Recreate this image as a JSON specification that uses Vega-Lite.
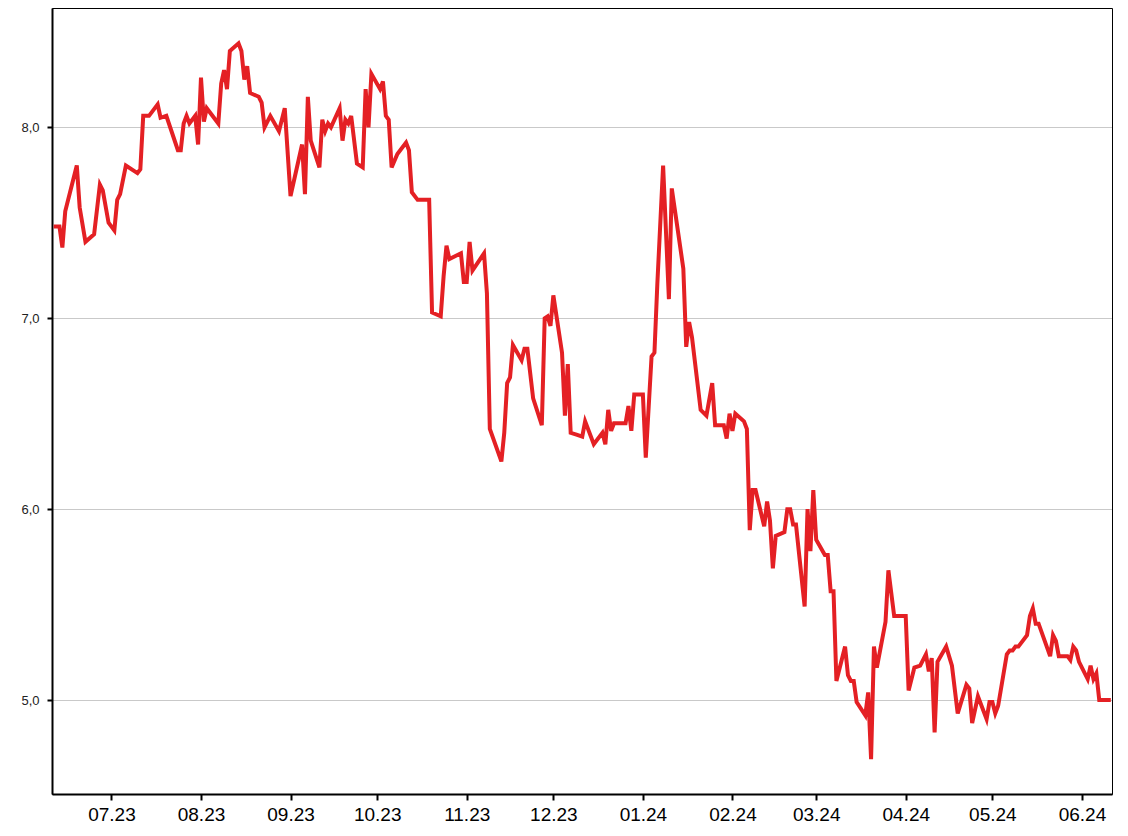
{
  "$schema": "https://vega.github.io/schema/vega-lite/v6.json",
  "width": 1060,
  "height": 786,
  "autosize": {"type": "none"},
  "padding": {"left": 52, "top": 8, "right": 16, "bottom": 42},
  "background": "white",
  "config": {
    "view": {"stroke": "black", "strokeWidth": 1},
    "font": "Liberation Sans"
  },
  "data": {
    "values": [
      {"date": "2023-06-11", "value": 7.48},
      {"date": "2023-06-13", "value": 7.48},
      {"date": "2023-06-14", "value": 7.37},
      {"date": "2023-06-15", "value": 7.56},
      {"date": "2023-06-19", "value": 7.80},
      {"date": "2023-06-20", "value": 7.58},
      {"date": "2023-06-22", "value": 7.40},
      {"date": "2023-06-25", "value": 7.44},
      {"date": "2023-06-27", "value": 7.70},
      {"date": "2023-06-28", "value": 7.67},
      {"date": "2023-06-30", "value": 7.50},
      {"date": "2023-07-02", "value": 7.46},
      {"date": "2023-07-03", "value": 7.62},
      {"date": "2023-07-04", "value": 7.65},
      {"date": "2023-07-06", "value": 7.80},
      {"date": "2023-07-10", "value": 7.76},
      {"date": "2023-07-11", "value": 7.78},
      {"date": "2023-07-12", "value": 8.06},
      {"date": "2023-07-14", "value": 8.06},
      {"date": "2023-07-17", "value": 8.12},
      {"date": "2023-07-18", "value": 8.05},
      {"date": "2023-07-20", "value": 8.06},
      {"date": "2023-07-24", "value": 7.88},
      {"date": "2023-07-25", "value": 7.88},
      {"date": "2023-07-26", "value": 8.02},
      {"date": "2023-07-27", "value": 8.06},
      {"date": "2023-07-28", "value": 8.02},
      {"date": "2023-07-30", "value": 8.06},
      {"date": "2023-07-31", "value": 7.91},
      {"date": "2023-08-01", "value": 8.26},
      {"date": "2023-08-02", "value": 8.03},
      {"date": "2023-08-03", "value": 8.10},
      {"date": "2023-08-07", "value": 8.02},
      {"date": "2023-08-08", "value": 8.23},
      {"date": "2023-08-09", "value": 8.30},
      {"date": "2023-08-10", "value": 8.20},
      {"date": "2023-08-11", "value": 8.40},
      {"date": "2023-08-14", "value": 8.44},
      {"date": "2023-08-15", "value": 8.40},
      {"date": "2023-08-16", "value": 8.25},
      {"date": "2023-08-17", "value": 8.32},
      {"date": "2023-08-18", "value": 8.18},
      {"date": "2023-08-21", "value": 8.16},
      {"date": "2023-08-22", "value": 8.13},
      {"date": "2023-08-23", "value": 8.00},
      {"date": "2023-08-25", "value": 8.06},
      {"date": "2023-08-28", "value": 7.98},
      {"date": "2023-08-30", "value": 8.10},
      {"date": "2023-09-01", "value": 7.64},
      {"date": "2023-09-05", "value": 7.91},
      {"date": "2023-09-06", "value": 7.65},
      {"date": "2023-09-07", "value": 8.16},
      {"date": "2023-09-08", "value": 7.93},
      {"date": "2023-09-11", "value": 7.79},
      {"date": "2023-09-12", "value": 8.04},
      {"date": "2023-09-13", "value": 7.98},
      {"date": "2023-09-14", "value": 8.02},
      {"date": "2023-09-15", "value": 8.00},
      {"date": "2023-09-18", "value": 8.10},
      {"date": "2023-09-19", "value": 7.93},
      {"date": "2023-09-20", "value": 8.04},
      {"date": "2023-09-21", "value": 8.02},
      {"date": "2023-09-22", "value": 8.06},
      {"date": "2023-09-24", "value": 7.81},
      {"date": "2023-09-26", "value": 7.79},
      {"date": "2023-09-27", "value": 8.20},
      {"date": "2023-09-28", "value": 8.00},
      {"date": "2023-09-29", "value": 8.28},
      {"date": "2023-10-02", "value": 8.20},
      {"date": "2023-10-03", "value": 8.24},
      {"date": "2023-10-04", "value": 8.06},
      {"date": "2023-10-05", "value": 8.04},
      {"date": "2023-10-06", "value": 7.79},
      {"date": "2023-10-08", "value": 7.86},
      {"date": "2023-10-11", "value": 7.92},
      {"date": "2023-10-12", "value": 7.88},
      {"date": "2023-10-13", "value": 7.66},
      {"date": "2023-10-15", "value": 7.62},
      {"date": "2023-10-19", "value": 7.62},
      {"date": "2023-10-20", "value": 7.03},
      {"date": "2023-10-23", "value": 7.01},
      {"date": "2023-10-24", "value": 7.22},
      {"date": "2023-10-25", "value": 7.38},
      {"date": "2023-10-26", "value": 7.31},
      {"date": "2023-10-30", "value": 7.34},
      {"date": "2023-10-31", "value": 7.19},
      {"date": "2023-11-01", "value": 7.19},
      {"date": "2023-11-02", "value": 7.40},
      {"date": "2023-11-03", "value": 7.25},
      {"date": "2023-11-07", "value": 7.34},
      {"date": "2023-11-08", "value": 7.13},
      {"date": "2023-11-09", "value": 6.42},
      {"date": "2023-11-13", "value": 6.25},
      {"date": "2023-11-14", "value": 6.40},
      {"date": "2023-11-15", "value": 6.66},
      {"date": "2023-11-16", "value": 6.69},
      {"date": "2023-11-17", "value": 6.86},
      {"date": "2023-11-20", "value": 6.78},
      {"date": "2023-11-21", "value": 6.84},
      {"date": "2023-11-22", "value": 6.84},
      {"date": "2023-11-24", "value": 6.58},
      {"date": "2023-11-27", "value": 6.44},
      {"date": "2023-11-28", "value": 7.00},
      {"date": "2023-11-29", "value": 7.01},
      {"date": "2023-11-30", "value": 6.96},
      {"date": "2023-12-01", "value": 7.12},
      {"date": "2023-12-04", "value": 6.82},
      {"date": "2023-12-05", "value": 6.49},
      {"date": "2023-12-06", "value": 6.76},
      {"date": "2023-12-07", "value": 6.40},
      {"date": "2023-12-09", "value": 6.39},
      {"date": "2023-12-11", "value": 6.38},
      {"date": "2023-12-12", "value": 6.46},
      {"date": "2023-12-15", "value": 6.34},
      {"date": "2023-12-18", "value": 6.40},
      {"date": "2023-12-19", "value": 6.34},
      {"date": "2023-12-20", "value": 6.52},
      {"date": "2023-12-21", "value": 6.41},
      {"date": "2023-12-22", "value": 6.45},
      {"date": "2023-12-26", "value": 6.45},
      {"date": "2023-12-27", "value": 6.54},
      {"date": "2023-12-28", "value": 6.41},
      {"date": "2023-12-29", "value": 6.60},
      {"date": "2024-01-01", "value": 6.60},
      {"date": "2024-01-02", "value": 6.27},
      {"date": "2024-01-04", "value": 6.80},
      {"date": "2024-01-05", "value": 6.82},
      {"date": "2024-01-06", "value": 7.18},
      {"date": "2024-01-08", "value": 7.80},
      {"date": "2024-01-10", "value": 7.10},
      {"date": "2024-01-11", "value": 7.68},
      {"date": "2024-01-15", "value": 7.26},
      {"date": "2024-01-16", "value": 6.85},
      {"date": "2024-01-17", "value": 6.98},
      {"date": "2024-01-18", "value": 6.90},
      {"date": "2024-01-21", "value": 6.52},
      {"date": "2024-01-23", "value": 6.49},
      {"date": "2024-01-25", "value": 6.66},
      {"date": "2024-01-26", "value": 6.44},
      {"date": "2024-01-29", "value": 6.44},
      {"date": "2024-01-30", "value": 6.37},
      {"date": "2024-01-31", "value": 6.50},
      {"date": "2024-02-01", "value": 6.41},
      {"date": "2024-02-02", "value": 6.50},
      {"date": "2024-02-05", "value": 6.46},
      {"date": "2024-02-06", "value": 6.42},
      {"date": "2024-02-07", "value": 5.89},
      {"date": "2024-02-08", "value": 6.10},
      {"date": "2024-02-09", "value": 6.10},
      {"date": "2024-02-12", "value": 5.91},
      {"date": "2024-02-13", "value": 6.04},
      {"date": "2024-02-14", "value": 5.94},
      {"date": "2024-02-15", "value": 5.69},
      {"date": "2024-02-16", "value": 5.86},
      {"date": "2024-02-19", "value": 5.88},
      {"date": "2024-02-20", "value": 6.00},
      {"date": "2024-02-21", "value": 6.00},
      {"date": "2024-02-22", "value": 5.92},
      {"date": "2024-02-23", "value": 5.92},
      {"date": "2024-02-26", "value": 5.49},
      {"date": "2024-02-27", "value": 6.00},
      {"date": "2024-02-28", "value": 5.78},
      {"date": "2024-02-29", "value": 6.10},
      {"date": "2024-03-01", "value": 5.84},
      {"date": "2024-03-04", "value": 5.76},
      {"date": "2024-03-05", "value": 5.76},
      {"date": "2024-03-06", "value": 5.57},
      {"date": "2024-03-07", "value": 5.57},
      {"date": "2024-03-08", "value": 5.10},
      {"date": "2024-03-11", "value": 5.28},
      {"date": "2024-03-12", "value": 5.13},
      {"date": "2024-03-13", "value": 5.10},
      {"date": "2024-03-14", "value": 5.10},
      {"date": "2024-03-15", "value": 4.99},
      {"date": "2024-03-18", "value": 4.92},
      {"date": "2024-03-19", "value": 5.04},
      {"date": "2024-03-20", "value": 4.69},
      {"date": "2024-03-21", "value": 5.28},
      {"date": "2024-03-22", "value": 5.17},
      {"date": "2024-03-25", "value": 5.41},
      {"date": "2024-03-26", "value": 5.68},
      {"date": "2024-03-28", "value": 5.44},
      {"date": "2024-04-01", "value": 5.44},
      {"date": "2024-04-02", "value": 5.05},
      {"date": "2024-04-04", "value": 5.17},
      {"date": "2024-04-06", "value": 5.18},
      {"date": "2024-04-08", "value": 5.24},
      {"date": "2024-04-09", "value": 5.15},
      {"date": "2024-04-10", "value": 5.22},
      {"date": "2024-04-11", "value": 4.83},
      {"date": "2024-04-12", "value": 5.20},
      {"date": "2024-04-15", "value": 5.28},
      {"date": "2024-04-17", "value": 5.18},
      {"date": "2024-04-19", "value": 4.93},
      {"date": "2024-04-22", "value": 5.08},
      {"date": "2024-04-23", "value": 5.06},
      {"date": "2024-04-24", "value": 4.88},
      {"date": "2024-04-26", "value": 5.02},
      {"date": "2024-04-29", "value": 4.90},
      {"date": "2024-04-30", "value": 4.99},
      {"date": "2024-05-01", "value": 4.99},
      {"date": "2024-05-02", "value": 4.93},
      {"date": "2024-05-03", "value": 4.97},
      {"date": "2024-05-06", "value": 5.24},
      {"date": "2024-05-07", "value": 5.26},
      {"date": "2024-05-08", "value": 5.26},
      {"date": "2024-05-09", "value": 5.28},
      {"date": "2024-05-10", "value": 5.28},
      {"date": "2024-05-13", "value": 5.34},
      {"date": "2024-05-14", "value": 5.44},
      {"date": "2024-05-15", "value": 5.48},
      {"date": "2024-05-16", "value": 5.40},
      {"date": "2024-05-17", "value": 5.40},
      {"date": "2024-05-21", "value": 5.23},
      {"date": "2024-05-22", "value": 5.34},
      {"date": "2024-05-23", "value": 5.31},
      {"date": "2024-05-24", "value": 5.23},
      {"date": "2024-05-27", "value": 5.23},
      {"date": "2024-05-28", "value": 5.21},
      {"date": "2024-05-29", "value": 5.28},
      {"date": "2024-05-30", "value": 5.26},
      {"date": "2024-05-31", "value": 5.20},
      {"date": "2024-06-03", "value": 5.11},
      {"date": "2024-06-04", "value": 5.18},
      {"date": "2024-06-05", "value": 5.11},
      {"date": "2024-06-06", "value": 5.14},
      {"date": "2024-06-07", "value": 5.00},
      {"date": "2024-06-10", "value": 5.00},
      {"date": "2024-06-11", "value": 5.00}
    ]
  },
  "mark": {"type": "line", "color": "#e42024", "strokeWidth": 4, "strokeJoin": "miter", "clip": true},
  "encoding": {
    "x": {
      "field": "date",
      "type": "temporal",
      "scale": {
        "type": "utc",
        "domain": [
          {"year": 2023, "month": 6, "date": 10, "hours": 10, "utc": true},
          {"year": 2024, "month": 6, "date": 11, "hours": 10, "utc": true}
        ],
        "nice": false
      },
      "axis": {
        "title": null,
        "labelExpr": "utcFormat(datum.value, '%m.%y')",
        "tickCount": {"interval": "month", "step": 1},
        "grid": false,
        "domainColor": "black",
        "domainWidth": 2,
        "tickColor": "black",
        "tickWidth": 2,
        "tickSize": 6,
        "labelFontSize": 19,
        "labelColor": "black",
        "labelPadding": 5,
        "labelFont": "Liberation Sans",
        "labelFlush": false,
        "labelOverlap": false
      }
    },
    "y": {
      "field": "value",
      "type": "quantitative",
      "scale": {"domain": [4.508, 8.625], "nice": false, "zero": false},
      "axis": {
        "title": null,
        "values": [5, 6, 7, 8],
        "labelExpr": "replace(format(datum.value, '.1f'), '.', ',')",
        "grid": true,
        "gridColor": "#666666",
        "gridDash": [1, 1],
        "gridWidth": 0.7,
        "domainColor": "black",
        "domainWidth": 2,
        "tickColor": "black",
        "tickWidth": 2,
        "tickSize": 5,
        "labelFontSize": 13,
        "labelColor": "#222222",
        "labelPadding": 8,
        "labelFont": "Liberation Sans"
      }
    }
  }
}
